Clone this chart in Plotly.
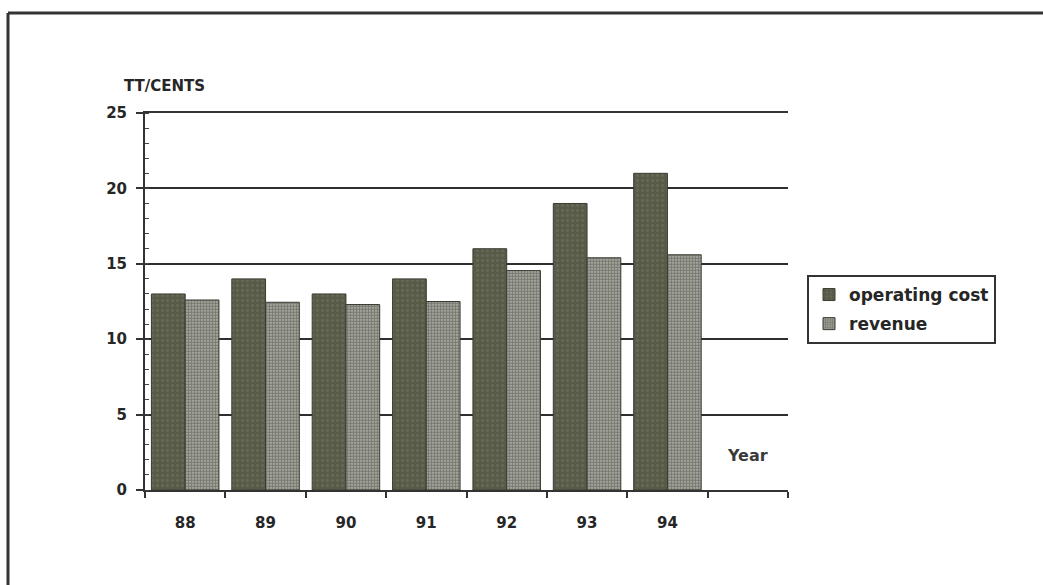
import plotly.graph_objects as go

# Data
years = ["88", "89", "90", "91", "92", "93", "94"]
operating_cost = [13, 14, 13, 14, 16, 19, 21]
revenue = [12.6, 12.45, 12.3, 12.5, 14.55, 15.4, 15.6]
y_ticks = [0, 5, 10, 15, 20, 25]

x_pos = list(range(len(years)))
n_slots = len(years) + 1  # one empty slot on the right holds the "Year" label
boundaries = [i - 0.5 for i in range(n_slots + 1)]

W, H = 1043, 585
L, R, T, B = 145, 255, 113, 95
pw, ph = W - L - R, H - T - B

def px_x(p):
    return (p - L) / pw

def px_y(p):
    return (H - B - p) / ph

FONT = "DejaVu Sans, Liberation Sans, Arial, sans-serif"
INK = "#262626"
AXIS = "#333333"

fig = go.Figure()
fig.add_trace(go.Bar(
    name="operating cost", x=x_pos, y=operating_cost, legendgroup="a",
    marker=dict(color="#5c604c", line=dict(color="#3a3c31", width=1),
                pattern=dict(shape=".", fgcolor="#777a66", bgcolor="#585b48",
                             size=5, solidity=0.25)),
))
fig.add_trace(go.Bar(
    name="revenue", x=x_pos, y=revenue, legendgroup="b",
    marker=dict(color="#7e7f74", line=dict(color="#3a3c31", width=1),
                pattern=dict(shape=".", fgcolor="#34362d", bgcolor="#bdbdb4",
                             size=3, solidity=0.7)),
))

fig.update_layout(
    width=W, height=H,
    margin=dict(l=L, r=R, t=T, b=B),
    paper_bgcolor="white", plot_bgcolor="white",
    barmode="group", bargap=0.16, bargroupgap=0,
    font=dict(family=FONT, color=INK, size=15),
    showlegend=True,
    legend=dict(
        x=px_x(807), y=px_y(275), xanchor="left", yanchor="top",
        bordercolor=AXIS, borderwidth=2, bgcolor="white",
        font=dict(family=FONT, size=17, color=INK, weight="bold"),
        tracegroupgap=4, itemwidth=30,
    ),
    xaxis=dict(
        range=[boundaries[0], boundaries[-1]],
        tickmode="array", tickvals=boundaries, showticklabels=False,
        ticks="outside", ticklen=6, tickwidth=2, tickcolor=AXIS,
        showline=True, linecolor=AXIS, linewidth=2, mirror=True,
        showgrid=False, zeroline=False, fixedrange=True,
    ),
    xaxis2=dict(
        overlaying="x", anchor="y", side="bottom",
        range=[boundaries[0], boundaries[-1]],
        tickmode="array", tickvals=x_pos, ticktext=years,
        ticks="", showline=False, showgrid=False, zeroline=False,
        ticklabelstandoff=22,
        tickfont=dict(family=FONT, size=15, color=INK, weight="bold"),
    ),
    yaxis=dict(
        range=[0, 25], tickmode="array", tickvals=y_ticks,
        ticks="outside", ticklen=7, tickwidth=2, tickcolor=AXIS,
        showline=True, linecolor=AXIS, linewidth=2,
        showgrid=True, gridcolor="#2e2e2e", gridwidth=2,
        zeroline=False, ticklabelstandoff=6,
        tickfont=dict(family=FONT, size=15, color=INK, weight="bold"),
        minor=dict(ticks="inside", dtick=1, ticklen=4, tickcolor="#444444",
                   tickwidth=1, showgrid=False),
    ),
)

# empty trace so the label axis (x2) is rendered
fig.add_trace(go.Scatter(x=x_pos, y=[None] * len(x_pos), xaxis="x2",
                         showlegend=False, hoverinfo="skip"))

fig.add_annotation(text="<b>TT/CENTS</b>", xref="paper", yref="paper",
                   x=px_x(122), y=px_y(86), xanchor="left", yanchor="middle",
                   showarrow=False, font=dict(family=FONT, size=15, color=INK))
fig.add_annotation(text="<b>Year</b>", xref="x", yref="y",
                   x=len(years), y=2.3, xanchor="center", yanchor="middle",
                   showarrow=False, font=dict(family=FONT, size=16, color="#3a3a3a"))

# outer frame (top and left edges)
frame = dict(color=AXIS, width=3)
fig.add_shape(type="line", xref="paper", yref="paper",
              x0=px_x(8), y0=px_y(13), x1=px_x(W + 5), y1=px_y(13), line=frame)
fig.add_shape(type="line", xref="paper", yref="paper",
              x0=px_x(8), y0=px_y(13), x1=px_x(8), y1=px_y(H + 5), line=frame)

fig.write_html("out.html")
